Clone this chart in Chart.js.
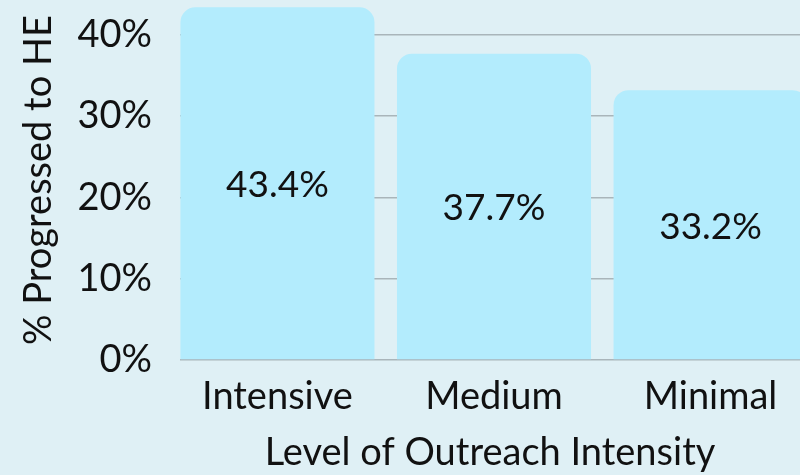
<!DOCTYPE html>
<html>
<head>
<meta charset="utf-8">
<script src="https://cdn.jsdelivr.net/npm/chart.js@4/dist/chart.umd.min.js"></script>
<style>
  html, body { margin: 0; padding: 0; background: #dff0f5; overflow: hidden; }
  #wrap { position: relative; width: 800px; height: 475px; }
</style>
</head>
<body>
<div id="wrap"><canvas id="chart"></canvas></div>
<script>
// data
var categories = ['Intensive', 'Medium', 'Minimal'];
var progressed = [43.4, 37.7, 33.2];
var yTicks = [0, 10, 20, 30, 40];

var FONT = 'Lato, "Noto Sans", sans-serif';
var TEXT = '#111111';

// draws the value in the middle of each bar
var valueLabels = {
  id: 'valueLabels',
  afterDatasetsDraw: function(chart) {
    var ctx = chart.ctx;
    var meta = chart.getDatasetMeta(0);
    ctx.save();
    ctx.font = '37px ' + FONT;
    ctx.fillStyle = TEXT;
    ctx.textAlign = 'center';
    ctx.textBaseline = 'middle';
    meta.data.forEach(function(bar, i) {
      // +2 so the text sits like the reference font does
      ctx.fillText(progressed[i].toFixed(1) + '%', bar.x, (bar.y + bar.base) / 2 + 2);
    });
    ctx.restore();
  }
};

var points = categories.map(function(c, i) {
  return { x: i, y: progressed[i] };
});

new Chart(document.getElementById('chart'), {
  type: 'bar',
  data: {
    datasets: [{
      data: points,
      backgroundColor: '#b3ecfd',
      borderRadius: 15,
      borderSkipped: 'start',
      categoryPercentage: 1,
      barPercentage: 0.896
    }]
  },
  options: {
    responsive: true,
    maintainAspectRatio: false,
    animation: false,
    layout: { padding: 0 },
    plugins: {
      legend: { display: false },
      tooltip: { enabled: false }
    },
    scales: {
      x: {
        type: 'linear',
        offset: false,
        min: -0.45,
        max: 2.413,
        grid: { display: false },
        border: { display: false },
        afterBuildTicks: function(scale) {
          scale.ticks = categories.map(function(c, i) { return { value: i }; });
        },
        afterFit: function(scale) {
          scale.height = 115;
          scale.paddingLeft = 0;
          scale.paddingRight = 0;
        },
        ticks: {
          color: TEXT,
          font: { family: FONT, size: 38 },
          padding: 6,
          maxRotation: 0,
          callback: function(v) { return categories[v]; }
        },
        title: {
          display: true,
          text: 'Level of Outreach Intensity',
          color: TEXT,
          font: { family: FONT, size: 38 },
          padding: { top: 0, bottom: -1 }
        }
      },
      y: {
        min: 0,
        max: 44.3,
        grid: { color: '#a9b5ba', lineWidth: 1.5, drawTicks: false },
        border: { display: false },
        afterBuildTicks: function(scale) {
          scale.ticks = yTicks.map(function(v) { return { value: v }; });
        },
        afterFit: function(scale) {
          scale.width = 180;
          scale.paddingTop = 0;
          scale.paddingBottom = 0;
        },
        ticks: {
          color: TEXT,
          font: { family: FONT, size: 38 },
          padding: 28,
          callback: function(v) { return v + '%'; }
        },
        title: {
          display: true,
          text: '% Progressed to HE',
          color: TEXT,
          font: { family: FONT, size: 38 },
          padding: { top: 16, bottom: 0 }
        }
      }
    }
  },
  plugins: [valueLabels]
});
</script>
</body>
</html>
